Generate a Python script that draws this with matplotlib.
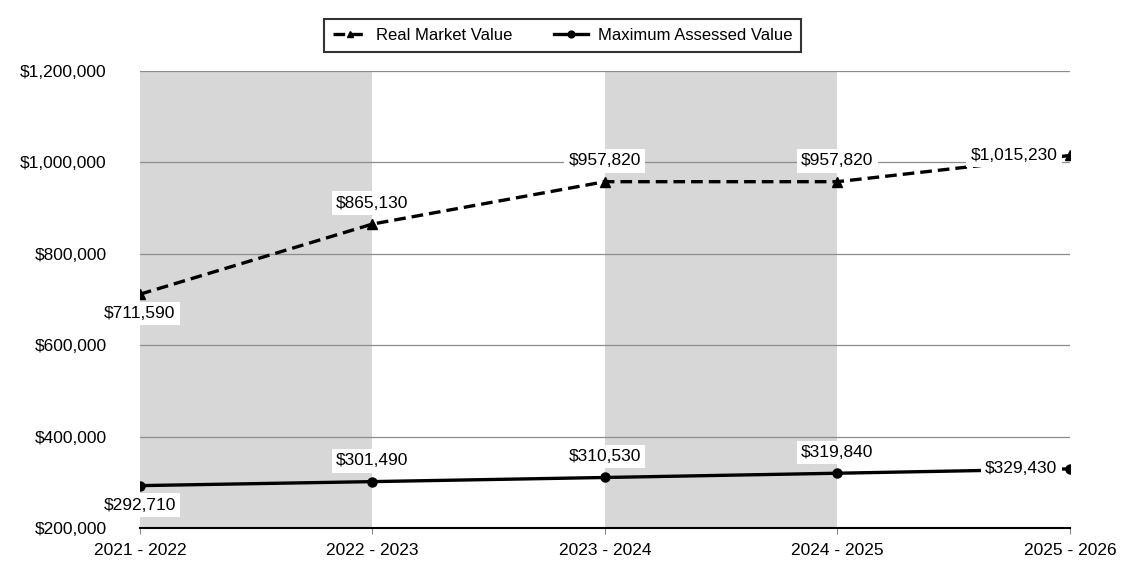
import matplotlib
matplotlib.use("Agg")
import matplotlib.pyplot as plt
from matplotlib.ticker import FuncFormatter, FixedLocator

plt.rcParams['font.family'] = ['Liberation Sans', 'DejaVu Sans']

years = ["2021 - 2022", "2022 - 2023", "2023 - 2024", "2024 - 2025", "2025 - 2026"]
real_market = [711590, 865130, 957820, 957820, 1015230]
max_assessed = [292710, 301490, 310530, 319840, 329430]
y_ticks = [200000, 400000, 600000, 800000, 1000000, 1200000]

fig = plt.figure(figsize=(11.25, 5.7), dpi=100)
ax = fig.add_axes([0.1244, 0.0737, 0.8267, 0.8017])

x = list(range(len(years)))
ax.set_xlim(0, len(years) - 1)
ax.set_ylim(200000, 1200000)

# shaded bands
for i in range(0, len(years) - 1, 2):
    ax.axvspan(x[i], x[i + 1], color='#d7d7d7', zorder=0, lw=0)

ax.yaxis.set_major_locator(FixedLocator(y_ticks))
ax.grid(axis='y', color='#8c8c8c', lw=0.9, zorder=1)
ax.set_axisbelow(True)
for s in ['top', 'right', 'left']:
    ax.spines[s].set_visible(False)
ax.spines['bottom'].set_color('black')
ax.spines['bottom'].set_linewidth(1.5)
ax.spines['bottom'].set_zorder(2)

ax.yaxis.set_major_formatter(FuncFormatter(lambda v, p: f"${v:,.0f}"))
ax.tick_params(axis='y', length=0, labelsize=12.5, pad=24)
ax.set_xticks(x)
ax.set_xticklabels(years)
ax.tick_params(axis='x', length=4, labelsize=12.5, color='#888888', pad=7)

l1, = ax.plot(x, real_market, ls=(0, (3.5, 1.8)), color='black', lw=2.4, marker='^',
              ms=6.5, zorder=4, label='Real Market Value')
l2, = ax.plot(x, max_assessed, ls='-', color='black', lw=2.4, marker='o',
              ms=6.5, zorder=4, label='Maximum Assessed Value')

bbox = dict(boxstyle='square,pad=0.25', fc='white', ec='none')

def annotate(series):
    for i, v in enumerate(series):
        txt = f"${v:,.0f}"
        if i == 0:
            ax.annotate(txt, (x[i], v), xytext=(0, -14), textcoords='offset points',
                        ha='center', va='center', fontsize=12.5, bbox=bbox, zorder=5,
                        annotation_clip=False)
        elif i == len(series) - 1:
            ax.annotate(txt, (x[i], v), xytext=(-9, 0), textcoords='offset points',
                        ha='right', va='center', fontsize=12.5, bbox=bbox, zorder=5,
                        annotation_clip=False)
        else:
            ax.annotate(txt, (x[i], v), xytext=(0, 15), textcoords='offset points',
                        ha='center', va='center', fontsize=12.5, bbox=bbox, zorder=5,
                        annotation_clip=False)

annotate(real_market)
annotate(max_assessed)

leg = fig.legend(handles=[l1, l2], loc='center', bbox_to_anchor=(0.5, 0.938),
                 ncol=2, fontsize=12, frameon=True, fancybox=False,
                 handlelength=2.0, handletextpad=0.6, columnspacing=2.5,
                 borderpad=0.55, markerscale=0.75)
leg.get_frame().set_edgecolor('black')
leg.get_frame().set_linewidth(1.5)

fig.savefig('out.png', dpi=100)
